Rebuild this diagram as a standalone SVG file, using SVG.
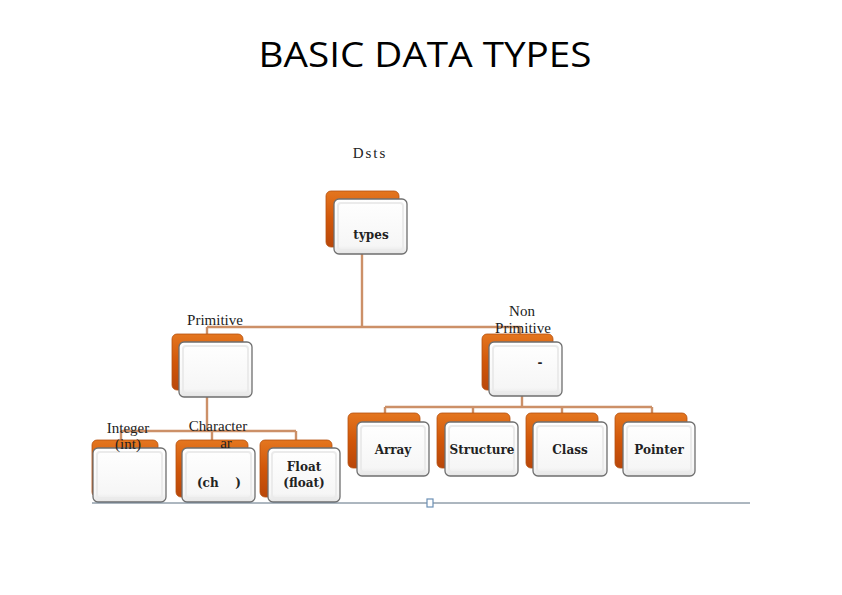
<svg xmlns="http://www.w3.org/2000/svg" width="842" height="595" viewBox="0 0 842 595">
<defs>
<linearGradient id="og" x1="0" y1="0" x2="0" y2="1">
<stop offset="0" stop-color="#e4761f"/>
<stop offset="0.5" stop-color="#d1570a"/>
<stop offset="1" stop-color="#b9470a"/>
</linearGradient>
<linearGradient id="wg" x1="0" y1="0" x2="0" y2="1">
<stop offset="0" stop-color="#ffffff"/>
<stop offset="0.85" stop-color="#f6f6f6"/>
<stop offset="1" stop-color="#e4e4e4"/>
</linearGradient>
<style>
.back{fill:url(#og);stroke:#b5500f;stroke-width:0.8}
.front{fill:url(#wg);stroke:#6f6f6f;stroke-width:1.3}
.inner{fill:none;stroke:#ebebeb;stroke-width:2}
.lbl{font-family:"DejaVu Serif","Liberation Serif",serif;font-weight:bold;font-size:12px;fill:#222;text-anchor:middle}
.cap{font-family:"Liberation Serif","DejaVu Serif",serif;font-size:15px;fill:#222;text-anchor:middle}
.conn{stroke:#cc9068;stroke-width:2.4;fill:none}
</style>
</defs>
<rect width="842" height="595" fill="#ffffff"/>
<text x="425" y="67" font-family="Open Sans, Liberation Sans, sans-serif" font-size="35" text-anchor="middle" textLength="333" lengthAdjust="spacingAndGlyphs" fill="#000">BASIC DATA TYPES</text>

<g id="connectors">
<path class="conn" d="M362 254 V327 M207 327 H520 M207 327 V334 M520 327 V334"/>
<path class="conn" d="M207 397 V431 M121 431 H296 M121 431 V440 M212 431 V440 M296 431 V440"/>
<path class="conn" d="M522 396 V407 M385 407 H652 M385 407 V413 M473 407 V413 M562 407 V413 M652 407 V413"/>
</g>

<g id="node-types">
<text class="cap" x="370" y="158" letter-spacing="2">Dsts</text>
<rect class="back" x="326" y="191" width="73" height="56" rx="5"/>
<rect class="front" x="334" y="199" width="73" height="55" rx="5"/>
<rect class="inner" x="338" y="203" width="65" height="47" rx="3"/>
<text class="lbl" x="371" y="239">types</text>
</g>

<g id="node-primitive">
<text class="cap" x="215" y="325" font-size="16">Primitive</text>
<rect class="back" x="172" y="334" width="71" height="56" rx="5"/>
<rect class="front" x="179" y="342" width="73" height="55" rx="5"/>
<rect class="inner" x="183" y="346" width="65" height="47" rx="3"/>
</g>

<g id="node-nonprimitive">
<text class="cap" x="522" y="316">Non</text>
<text class="cap" x="523" y="333">Primitive</text>
<rect class="back" x="482" y="334" width="71" height="56" rx="5"/>
<rect class="front" x="489" y="342" width="73" height="54" rx="5"/>
<rect class="inner" x="493" y="346" width="65" height="46" rx="3"/>
<text class="lbl" x="540" y="367" font-weight="normal">-</text>
</g>

<g id="node-integer">
<rect class="back" x="92" y="440" width="66" height="57" rx="5"/>
<rect class="front" x="93" y="448" width="73" height="54" rx="5"/>
<rect class="inner" x="97" y="452" width="65" height="46" rx="3"/>
<text class="cap" x="128" y="433">Integer</text>
<text class="cap" x="128" y="449">(int)</text>
</g>

<g id="node-character">
<rect class="back" x="176" y="440" width="72" height="57" rx="5"/>
<rect class="front" x="182" y="448" width="73" height="54" rx="5"/>
<rect class="inner" x="186" y="452" width="65" height="46" rx="3"/>
<text class="cap" x="218" y="431">Character</text>
<text class="cap" x="226" y="448">ar</text>
<text class="lbl" x="219" y="487" xml:space="preserve">(ch    )</text>
</g>

<g id="node-float">
<rect class="back" x="260" y="440" width="72" height="57" rx="5"/>
<rect class="front" x="268" y="448" width="72" height="54" rx="5"/>
<rect class="inner" x="272" y="452" width="64" height="46" rx="3"/>
<text class="lbl" x="304" y="471">Float</text>
<text class="lbl" x="304" y="487">(float)</text>
</g>

<g id="node-array">
<rect class="back" x="348" y="413" width="72" height="55" rx="5"/>
<rect class="front" x="357" y="422" width="72" height="54" rx="5"/>
<rect class="inner" x="361" y="426" width="64" height="46" rx="3"/>
<text class="lbl" x="393" y="454">Array</text>
</g>

<g id="node-structure">
<rect class="back" x="437" y="413" width="73" height="55" rx="5"/>
<rect class="front" x="445" y="422" width="73" height="54" rx="5"/>
<rect class="inner" x="449" y="426" width="65" height="46" rx="3"/>
<text class="lbl" x="482" y="454">Structure</text>
</g>

<g id="node-class">
<rect class="back" x="526" y="413" width="72" height="55" rx="5"/>
<rect class="front" x="533" y="422" width="74" height="54" rx="5"/>
<rect class="inner" x="537" y="426" width="66" height="46" rx="3"/>
<text class="lbl" x="570" y="454">Class</text>
</g>

<g id="node-pointer">
<rect class="back" x="615" y="413" width="72" height="55" rx="5"/>
<rect class="front" x="623" y="422" width="72" height="54" rx="5"/>
<rect class="inner" x="627" y="426" width="64" height="46" rx="3"/>
<text class="lbl" x="659" y="454">Pointer</text>
</g>

<line x1="92" y1="503" x2="750" y2="503" stroke="#5a6e80" stroke-width="1"/>
<rect x="427" y="499" width="6" height="8" fill="#ffffff" stroke="#6b8fb5" stroke-width="1.2"/>
</svg>
